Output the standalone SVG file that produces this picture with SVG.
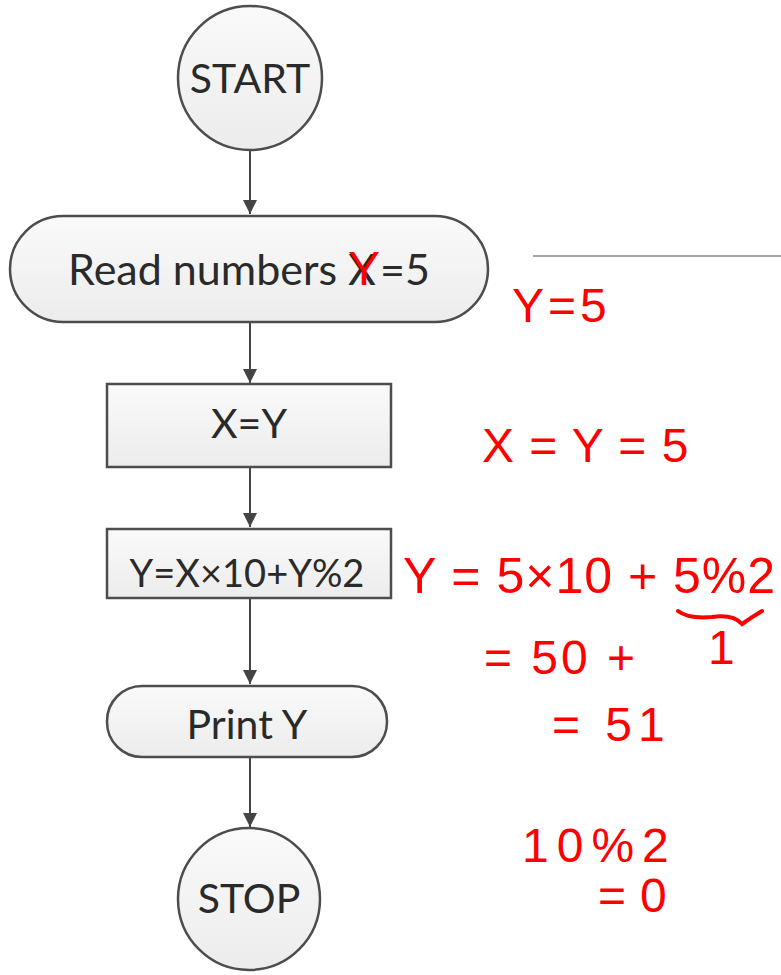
<svg xmlns="http://www.w3.org/2000/svg" width="781" height="975" viewBox="0 0 781 975">
<defs>
<linearGradient id="g" x1="0" y1="0" x2="0" y2="1">
<stop offset="0" stop-color="#fafafa"/><stop offset="1" stop-color="#ececec"/>
</linearGradient>
<marker id="ah" viewBox="0 0 10 10" refX="10" refY="5" markerWidth="14" markerHeight="16" markerUnits="userSpaceOnUse" orient="auto">
<path d="M0,0 L10,5 L0,10 Z" fill="#444"/>
</marker>
<style>
.n{fill:url(#g);stroke:#4d4d4d;stroke-width:2.5}
.t{font-family:Lato,"Open Sans",sans-serif;font-size:41px;fill:#2a2a2a;text-anchor:middle}
.c{stroke:#444;stroke-width:2;fill:none;marker-end:url(#ah)}
.h{font-family:"Liberation Sans",sans-serif;fill:#ff0000;font-size:48px}
.r{stroke:#ff0000;stroke-width:4;fill:none;stroke-linecap:round}
</style>
</defs>
<rect width="781" height="975" fill="#fff"/>
<g id="connectors">
<line class="c" x1="250" y1="150" x2="250" y2="214"/>
<line class="c" x1="250" y1="323" x2="250" y2="383"/>
<line class="c" x1="250" y1="467" x2="250" y2="527"/>
<line class="c" x1="250" y1="598" x2="250" y2="684"/>
<line class="c" x1="250" y1="757" x2="250" y2="827"/>
</g>
<g id="start"><circle class="n" cx="250" cy="78" r="72"/><text class="t" x="250" y="93">START</text></g>
<g id="read"><rect class="n" x="10" y="216" width="478" height="106" rx="53"/><text class="t" x="249" y="285" style="font-size:43px">Read numbers X<tspan style="fill:#ff0000;font-family:'Liberation Sans',sans-serif;font-size:48px" dx="-28">Y</tspan>=5</text></g>
<g id="assign"><rect class="n" x="107" y="384" width="284" height="83"/><text class="t" x="249" y="438">X=Y</text></g>
<g id="compute"><rect class="n" x="107" y="529" width="284" height="69"/><text class="t" x="247" y="587" style="font-size:38px">Y=X×10+Y%2</text></g>
<g id="print"><rect class="n" x="107" y="686" width="280" height="71" rx="35"/><text class="t" x="247" y="739">Print Y</text></g>
<g id="stop"><circle class="n" cx="249" cy="899" r="71"/><text class="t" x="249" y="913">STOP</text></g>
<line x1="533" y1="256" x2="781" y2="256" stroke="#888" stroke-width="1.5"/>
<g id="annotations">
<text class="h" x="512" y="322" letter-spacing="4">Y=5</text>
<text class="h" x="482" y="462" letter-spacing="1">X = Y = 5</text>
<text class="h" x="403" y="593" style="font-size:50px" letter-spacing="1">Y = 5×10 + 5%2</text>
<path class="r" d="M678,611 Q688,619 712,617 Q733,614 742,624 Q752,617 762,611"/>
<text class="h" x="484" y="674" letter-spacing="3">= 50 +</text>
<text class="h" x="708" y="664">1</text>
<text class="h" x="552" y="741" letter-spacing="6">= 51</text>
<text class="h" x="522" y="862" letter-spacing="8">10%2</text>
<text class="h" x="598" y="912" letter-spacing="14">=0</text>
</g>
</svg>
